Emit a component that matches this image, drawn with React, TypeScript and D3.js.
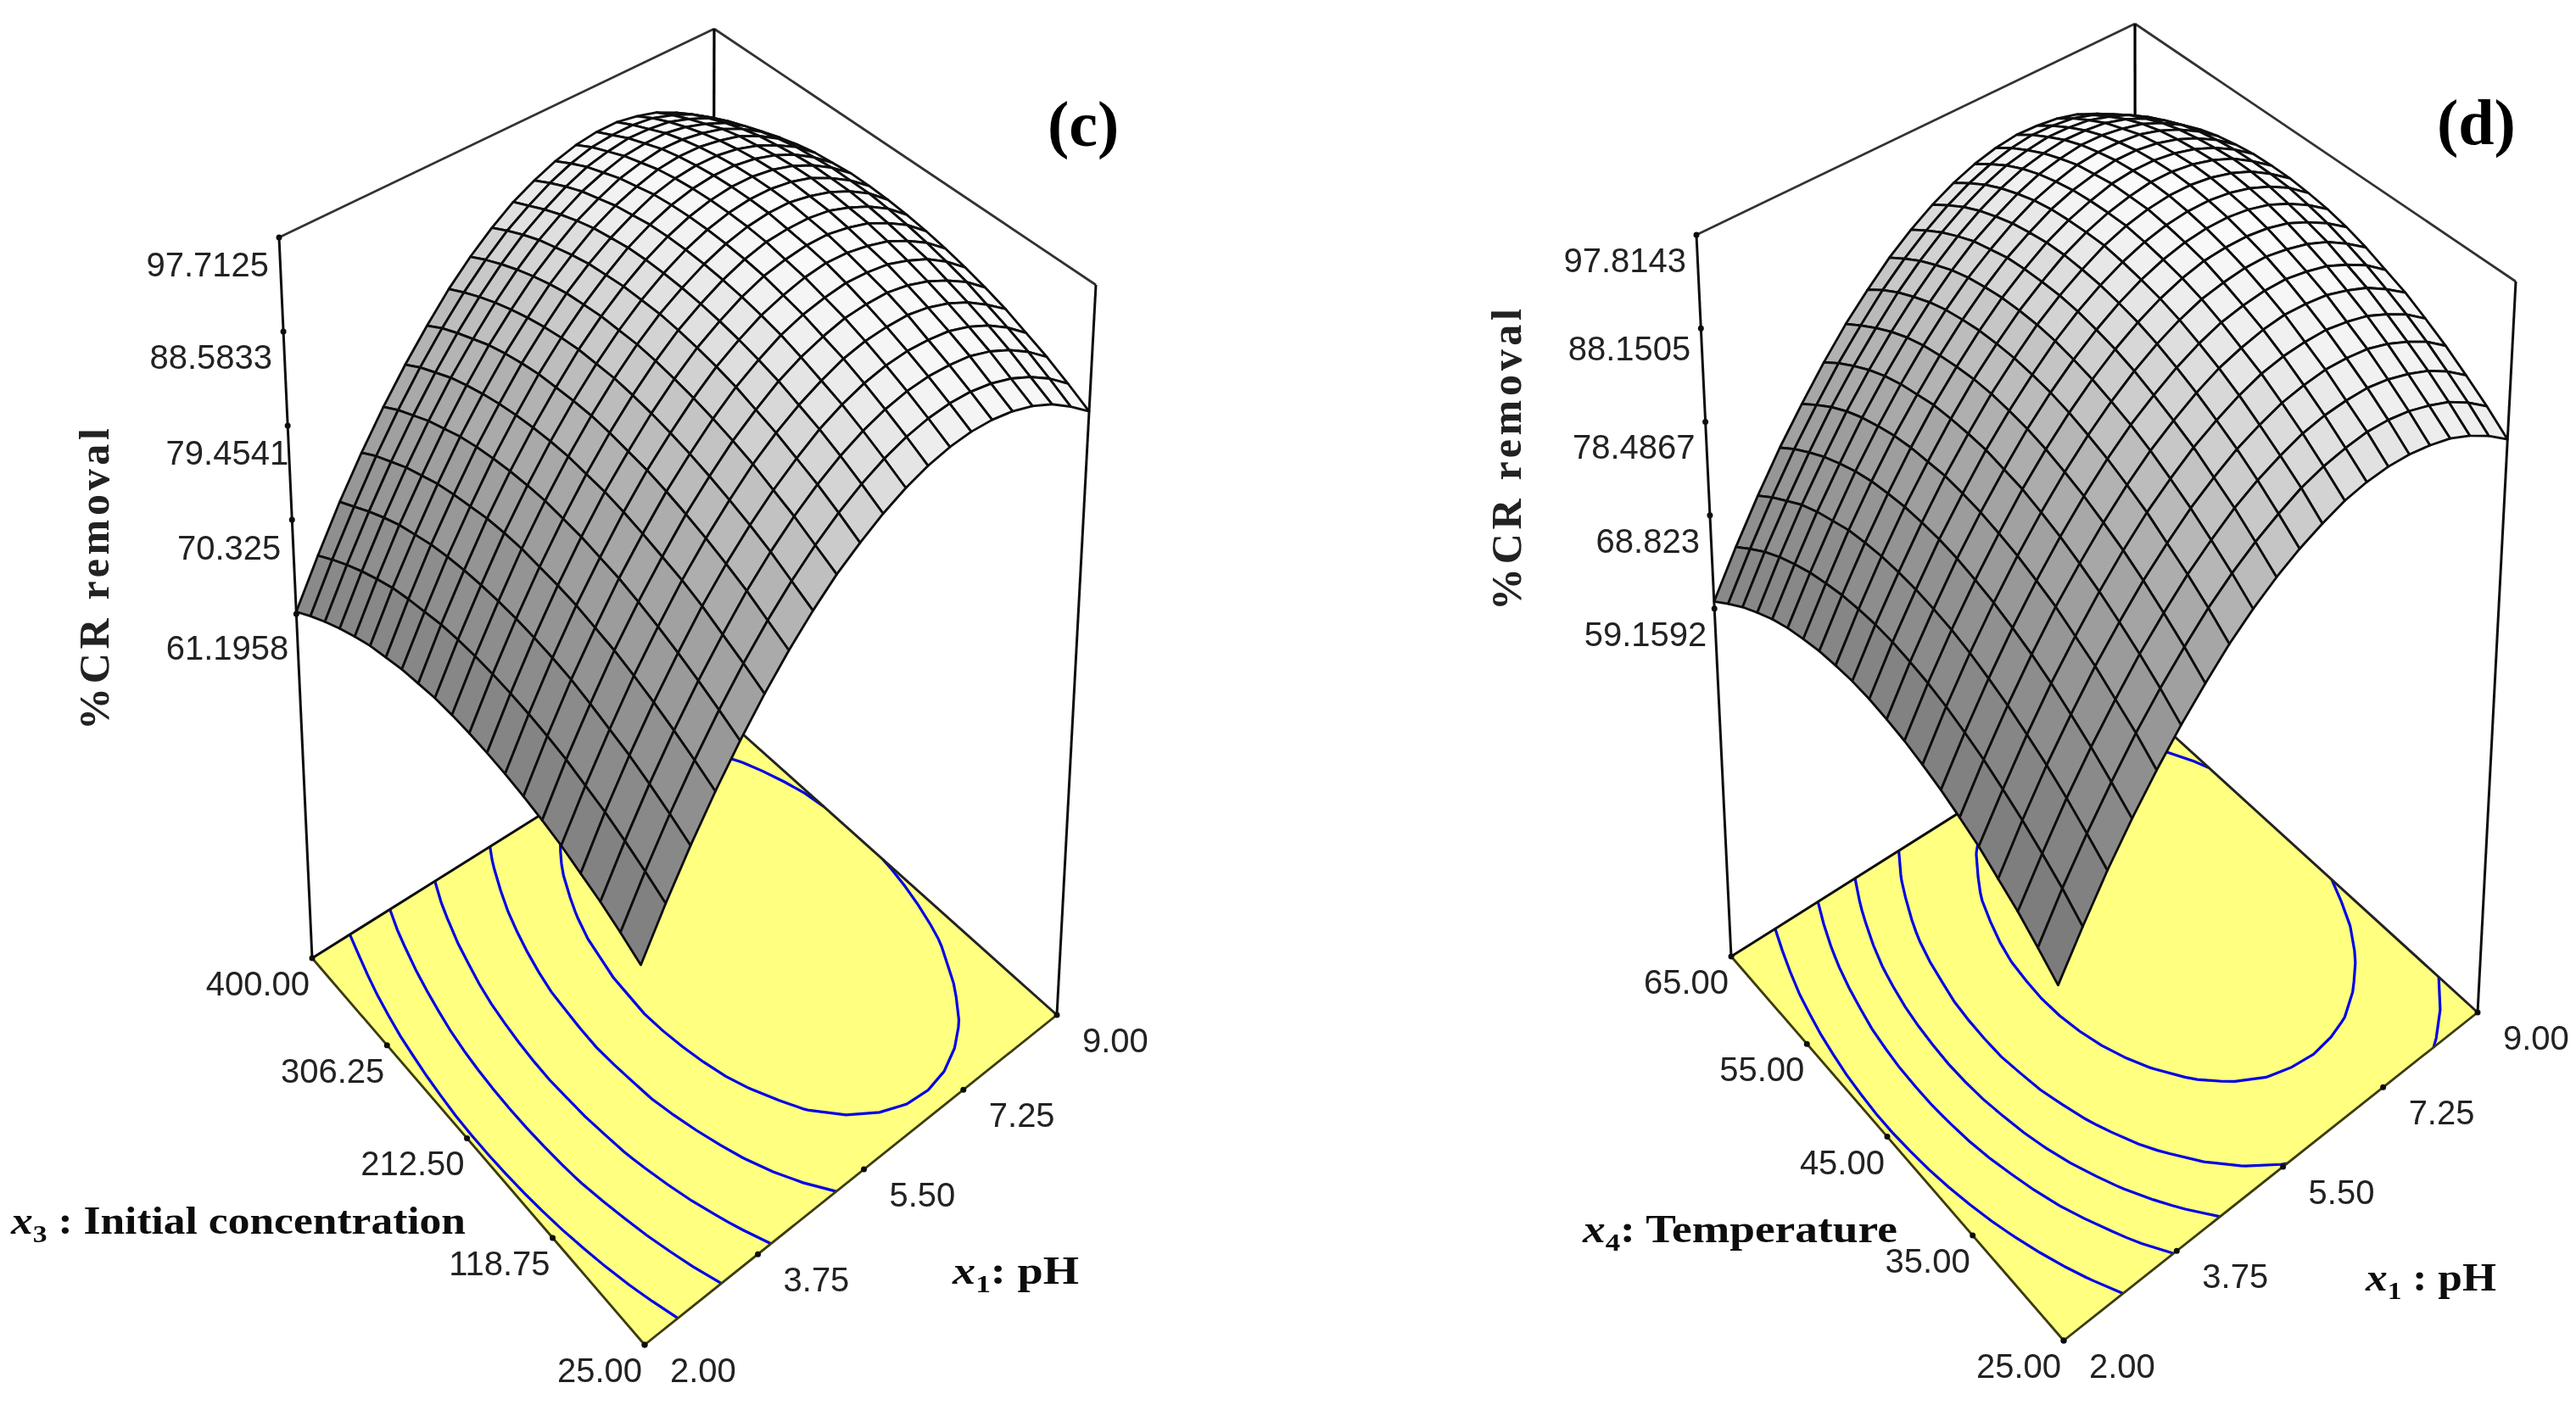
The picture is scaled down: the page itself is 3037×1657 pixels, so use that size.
import React, { useEffect, useRef } from 'react';
import * as d3 from 'd3';

type Pt = [number, number];

const phTicks = ['2.00', '3.75', '5.50', '7.25', '9.00'];
const concTicks = ['25.00', '118.75', '212.50', '306.25', '400.00'];
const tempTicks = ['25.00', '35.00', '45.00', '55.00', '65.00'];
const zTicksC = ['61.1958', '70.325', '79.4541', '88.5833', '97.7125'];
const zTicksD = ['59.1592', '68.823', '78.4867', '88.1505', '97.8143'];

// %CR removal, rows run along the x3 / x4 axis, columns along pH (2 to 9)
const surfaceC = [
  [62.8, 66.8, 70.5, 73.9, 77.0, 79.8, 82.3, 84.5, 86.4, 87.9, 89.2, 90.2, 90.9, 91.3, 91.4, 91.2, 90.7, 89.9, 88.8, 87.3, 85.6],
  [63.8, 67.8, 71.5, 74.9, 78.0, 80.8, 83.3, 85.5, 87.4, 89.0, 90.3, 91.3, 92.0, 92.4, 92.5, 92.3, 91.8, 91.0, 89.9, 88.5, 86.8],
  [64.7, 68.7, 72.4, 75.8, 78.9, 81.7, 84.3, 86.5, 88.4, 90.0, 91.3, 92.3, 93.0, 93.4, 93.5, 93.3, 92.9, 92.1, 91.0, 89.6, 87.9],
  [65.4, 69.5, 73.2, 76.6, 79.7, 82.6, 85.1, 87.3, 89.2, 90.8, 92.2, 93.2, 93.9, 94.3, 94.4, 94.2, 93.8, 93.0, 91.9, 90.5, 88.8],
  [66.1, 70.1, 73.8, 77.3, 80.4, 83.3, 85.8, 88.0, 90.0, 91.6, 92.9, 93.9, 94.7, 95.1, 95.2, 95.1, 94.6, 93.8, 92.7, 91.3, 89.7],
  [66.6, 70.7, 74.4, 77.9, 81.0, 83.8, 86.4, 88.6, 90.6, 92.2, 93.6, 94.6, 95.3, 95.8, 95.9, 95.8, 95.3, 94.5, 93.4, 92.1, 90.4],
  [67.0, 71.1, 74.9, 78.3, 81.5, 84.3, 86.9, 89.1, 91.1, 92.8, 94.1, 95.2, 95.9, 96.3, 96.5, 96.3, 95.9, 95.1, 94.1, 92.7, 91.0],
  [67.3, 71.4, 75.2, 78.7, 81.8, 84.7, 87.3, 89.5, 91.5, 93.2, 94.5, 95.6, 96.3, 96.8, 97.0, 96.8, 96.3, 95.6, 94.5, 93.2, 91.5],
  [67.5, 71.6, 75.4, 78.9, 82.1, 85.0, 87.5, 89.8, 91.8, 93.5, 94.8, 95.9, 96.7, 97.1, 97.3, 97.2, 96.7, 96.0, 94.9, 93.6, 91.9],
  [67.6, 71.7, 75.5, 79.0, 82.2, 85.1, 87.7, 90.0, 92.0, 93.7, 95.0, 96.1, 96.9, 97.4, 97.5, 97.4, 97.0, 96.2, 95.2, 93.9, 92.2],
  [67.6, 71.7, 75.5, 79.1, 82.3, 85.2, 87.8, 90.1, 92.1, 93.8, 95.1, 96.2, 97.0, 97.5, 97.7, 97.6, 97.1, 96.4, 95.4, 94.1, 92.4],
  [67.5, 71.6, 75.4, 79.0, 82.2, 85.1, 87.7, 90.0, 92.0, 93.7, 95.1, 96.2, 97.0, 97.5, 97.7, 97.6, 97.2, 96.5, 95.4, 94.1, 92.5],
  [67.2, 71.4, 75.2, 78.8, 82.0, 84.9, 87.5, 89.9, 91.9, 93.6, 95.0, 96.1, 96.9, 97.4, 97.6, 97.5, 97.1, 96.4, 95.4, 94.1, 92.5],
  [66.9, 71.0, 74.9, 78.4, 81.7, 84.6, 87.3, 89.6, 91.6, 93.3, 94.8, 95.9, 96.7, 97.2, 97.4, 97.3, 96.9, 96.2, 95.2, 93.9, 92.3],
  [66.4, 70.6, 74.5, 78.0, 81.3, 84.2, 86.9, 89.2, 91.3, 93.0, 94.4, 95.5, 96.4, 96.9, 97.1, 97.0, 96.6, 95.9, 94.9, 93.7, 92.1],
  [65.9, 70.1, 73.9, 77.5, 80.8, 83.7, 86.4, 88.7, 90.8, 92.5, 94.0, 95.1, 95.9, 96.5, 96.7, 96.6, 96.2, 95.6, 94.6, 93.3, 91.7],
  [65.2, 69.4, 73.3, 76.8, 80.1, 83.1, 85.8, 88.1, 90.2, 91.9, 93.4, 94.5, 95.4, 95.9, 96.2, 96.1, 95.7, 95.1, 94.1, 92.8, 91.2],
  [64.4, 68.6, 72.5, 76.1, 79.4, 82.4, 85.0, 87.4, 89.5, 91.3, 92.7, 93.9, 94.7, 95.3, 95.5, 95.5, 95.1, 94.4, 93.5, 92.2, 90.6],
  [63.5, 67.7, 71.6, 75.2, 78.5, 81.5, 84.2, 86.6, 88.7, 90.5, 91.9, 93.1, 94.0, 94.5, 94.8, 94.7, 94.4, 93.7, 92.8, 91.5, 89.9],
  [62.5, 66.7, 70.6, 74.3, 77.6, 80.6, 83.3, 85.7, 87.8, 89.6, 91.0, 92.2, 93.1, 93.7, 93.9, 93.9, 93.6, 92.9, 92.0, 90.7, 89.1],
  [61.4, 65.6, 69.6, 73.2, 76.5, 79.5, 82.2, 84.7, 86.8, 88.6, 90.1, 91.2, 92.1, 92.7, 93.0, 93.0, 92.6, 92.0, 91.0, 89.8, 88.2],
];

const surfaceD = [
  [58.3, 62.3, 66.1, 69.5, 72.6, 75.4, 77.9, 80.2, 82.1, 83.7, 85.0, 86.0, 86.8, 87.2, 87.3, 87.1, 86.6, 85.9, 84.8, 83.4, 81.7],
  [59.9, 64.0, 67.7, 71.1, 74.3, 77.1, 79.6, 81.9, 83.8, 85.4, 86.7, 87.8, 88.5, 88.9, 89.1, 88.9, 88.4, 87.6, 86.6, 85.2, 83.5],
  [61.4, 65.4, 69.2, 72.6, 75.7, 78.6, 81.1, 83.4, 85.3, 87.0, 88.3, 89.3, 90.1, 90.5, 90.6, 90.5, 90.0, 89.2, 88.2, 86.8, 85.1],
  [62.6, 66.7, 70.5, 73.9, 77.1, 79.9, 82.5, 84.7, 86.7, 88.3, 89.7, 90.7, 91.5, 91.9, 92.1, 91.9, 91.5, 90.7, 89.6, 88.3, 86.6],
  [63.8, 67.8, 71.6, 75.1, 78.2, 81.1, 83.7, 86.0, 87.9, 89.6, 90.9, 92.0, 92.8, 93.2, 93.3, 93.2, 92.7, 92.0, 90.9, 89.6, 87.9],
  [64.7, 68.8, 72.6, 76.1, 79.3, 82.1, 84.7, 87.0, 89.0, 90.6, 92.0, 93.1, 93.8, 94.3, 94.5, 94.3, 93.9, 93.1, 92.1, 90.7, 89.1],
  [65.5, 69.6, 73.4, 76.9, 80.1, 83.0, 85.6, 87.9, 89.9, 91.5, 92.9, 94.0, 94.8, 95.2, 95.4, 95.3, 94.8, 94.1, 93.0, 91.7, 90.0],
  [66.1, 70.3, 74.1, 77.6, 80.8, 83.7, 86.3, 88.6, 90.6, 92.3, 93.7, 94.8, 95.6, 96.0, 96.2, 96.1, 95.6, 94.9, 93.9, 92.5, 90.9],
  [66.6, 70.8, 74.6, 78.1, 81.3, 84.3, 86.9, 89.2, 91.2, 92.9, 94.3, 95.4, 96.2, 96.7, 96.8, 96.7, 96.3, 95.6, 94.5, 93.2, 91.6],
  [66.9, 71.1, 74.9, 78.5, 81.7, 84.6, 87.3, 89.6, 91.6, 93.3, 94.7, 95.8, 96.6, 97.1, 97.3, 97.2, 96.8, 96.1, 95.0, 93.7, 92.1],
  [67.1, 71.3, 75.1, 78.7, 81.9, 84.9, 87.5, 89.8, 91.9, 93.6, 95.0, 96.1, 96.9, 97.4, 97.6, 97.5, 97.1, 96.4, 95.4, 94.1, 92.4],
  [67.1, 71.3, 75.1, 78.7, 82.0, 84.9, 87.6, 89.9, 92.0, 93.7, 95.1, 96.3, 97.1, 97.6, 97.8, 97.7, 97.3, 96.6, 95.6, 94.2, 92.6],
  [66.9, 71.1, 75.0, 78.6, 81.8, 84.8, 87.5, 89.8, 91.9, 93.6, 95.1, 96.2, 97.0, 97.5, 97.8, 97.7, 97.3, 96.6, 95.6, 94.2, 92.6],
  [66.6, 70.8, 74.7, 78.3, 81.6, 84.6, 87.2, 89.6, 91.7, 93.4, 94.9, 96.0, 96.8, 97.4, 97.6, 97.5, 97.1, 96.4, 95.4, 94.1, 92.5],
  [66.1, 70.3, 74.3, 77.9, 81.2, 84.1, 86.8, 89.2, 91.3, 93.1, 94.5, 95.7, 96.5, 97.0, 97.3, 97.2, 96.8, 96.1, 95.1, 93.8, 92.2],
  [65.5, 69.7, 73.6, 77.3, 80.6, 83.6, 86.3, 88.7, 90.8, 92.5, 94.0, 95.2, 96.0, 96.6, 96.8, 96.7, 96.4, 95.7, 94.7, 93.4, 91.8],
  [64.7, 68.9, 72.9, 76.5, 79.9, 82.9, 85.6, 88.0, 90.1, 91.9, 93.3, 94.5, 95.4, 95.9, 96.2, 96.1, 95.7, 95.1, 94.1, 92.8, 91.2],
  [63.7, 68.0, 72.0, 75.6, 79.0, 82.0, 84.7, 87.1, 89.2, 91.0, 92.5, 93.7, 94.6, 95.1, 95.4, 95.3, 95.0, 94.3, 93.3, 92.0, 90.4],
  [62.6, 66.9, 70.8, 74.5, 77.9, 80.9, 83.6, 86.1, 88.2, 90.0, 91.5, 92.7, 93.6, 94.1, 94.4, 94.3, 94.0, 93.3, 92.4, 91.1, 89.5],
  [61.3, 65.6, 69.6, 73.3, 76.6, 79.7, 82.4, 84.9, 87.0, 88.8, 90.3, 91.5, 92.4, 93.0, 93.3, 93.2, 92.9, 92.2, 91.2, 90.0, 88.4],
  [59.9, 64.2, 68.2, 71.9, 75.2, 78.3, 81.1, 83.5, 85.7, 87.5, 89.0, 90.2, 91.1, 91.7, 92.0, 91.9, 91.6, 91.0, 90.0, 88.7, 87.1],
];

const levelsC = [68.4, 75, 81.3, 87.4, 92.3];
const levelsD = [68.1, 75, 80.2, 85.2, 91.6];

// square -> quad projective map, used for the floor and the lid of the box
function quad(p0: Pt, p1: Pt, p2: Pt, p3: Pt) {
  const dx1 = p1[0] - p2[0], dx2 = p3[0] - p2[0], sx = p0[0] - p1[0] + p2[0] - p3[0];
  const dy1 = p1[1] - p2[1], dy2 = p3[1] - p2[1], sy = p0[1] - p1[1] + p2[1] - p3[1];
  const den = dx1 * dy2 - dx2 * dy1;
  const g = (sx * dy2 - dx2 * sy) / den, h = (dx1 * sy - sx * dy1) / den;
  const a = p1[0] - p0[0] + g * p1[0], b = p3[0] - p0[0] + h * p3[0];
  const d = p1[1] - p0[1] + g * p1[1], e = p3[1] - p0[1] + h * p3[1];
  return (u: number, v: number): Pt => {
    const w = g * u + h * v + 1;
    return [(a * u + b * v + p0[0]) / w, (d * u + e * v + p0[1]) / w];
  };
}

interface PanelCfg {
  base: Pt[]; top: Pt[]; zBase: number; zTop: number;
  zTicks: string[]; vTicks: string[]; surface: number[][]; levels: number[];
  minRun: number;
  zDx: number[]; zDy: number[];
  title: string; titleX: number; titleY: number;
  zLabelX: number; zLabelY: number;
  vLabel: string; vSub: string; vX: number; vY: number; vLen: number;
  uX: number; uY: number; uLen: number; uLabel: string;
}

const panels: PanelCfg[] = [
  {
    base: [[760, 1586], [1246, 1197], [840, 834], [368, 1130]],
    top: [[751, 691], [1292, 336], [842, 34], [329, 280]],
    zBase: 27.8, zTop: 97.7125, zTicks: zTicksC, vTicks: concTicks, surface: surfaceC, levels: levelsC,
    minRun: 8,
    zDx: [-9, -13, 1, -13, -12], zDy: [54, 47, 46, 44, 46],
    title: '(c)', titleX: 1235, titleY: 172, zLabelX: 128, zLabelY: 861,
    vLabel: ' : Initial concentration', vSub: '3', vX: 13, vY: 1455, vLen: 536,
    uLabel: ': pH', uX: 1123, uY: 1514, uLen: 149,
  },
  {
    base: [[2433, 1581], [2921, 1194], [2518, 827], [2041, 1128]],
    top: [[2419, 690], [2966, 332], [2517, 28], [2000, 277]],
    zBase: 23.2, zTop: 97.8143, zTicks: zTicksD, vTicks: tempTicks, surface: surfaceD, levels: levelsD,
    minRun: 2,
    zDx: [-9, -12, -12, -12, -12], zDy: [44, 44, 44, 38, 44],
    title: '(d)', titleX: 2873, titleY: 170, zLabelX: 1793, zLabelY: 720,
    vLabel: ': Temperature', vSub: '4', vX: 1866, vY: 1465, vLen: 371,
    uLabel: ' : pH', uX: 2789, uY: 1522, uLen: 154,
  },
];

// grey from a fixed light, input is the lambert term of a cell
const shade = d3.scaleLinear<number>()
  .domain([0.17, 0.41, 0.57, 0.8, 0.9, 1])
  .range([124, 172, 202, 238, 246, 252])
  .clamp(true);

function drawPanel(svg: d3.Selection<SVGSVGElement, unknown, null, undefined>, p: PanelCfg) {
  const g = svg.append('g').attr('filter', 'url(#soft)');
  const baseAt = quad(p.base[0], p.base[1], p.base[2], p.base[3]);
  const topAt = quad(p.top[0], p.top[1], p.top[2], p.top[3]);
  const zFrac = d3.scaleLinear().domain([p.zBase, p.zTop]).range([0, 1]);
  const at = (u: number, v: number, z: number): Pt => {
    const a = baseAt(u, v), b = topAt(u, v), t = zFrac(z);
    return [a[0] + (b[0] - a[0]) * t, a[1] + (b[1] - a[1]) * t];
  };
  const line = d3.line<Pt>();

  // box
  const wall = (a: Pt, b: Pt, col: string, w: number) =>
    g.append('line').attr('x1', a[0]).attr('y1', a[1]).attr('x2', b[0]).attr('y2', b[1])
      .attr('stroke', col).attr('stroke-width', w);
  wall(p.top[3], p.top[2], '#333', 2.8);
  wall(p.top[2], p.top[1], '#333', 2.8);
  wall(p.top[3], p.base[3], '#111', 3);
  wall(p.top[1], p.base[1], '#111', 3);
  wall(p.top[2], p.base[2], '#000', 3.2);

  // floor
  g.append('path').attr('d', line(p.base)! + 'Z').attr('fill', '#ffff80');

  // contours on the floor
  const n = p.surface.length;
  const flat = p.surface.flat();
  const gen = d3.contours().size([n, n]).thresholds(p.levels);
  gen(flat).forEach(c => {
    c.coordinates.forEach(poly => poly.forEach(ring => {
      const pts = ring.map(q => [
        Math.min(1, Math.max(0, (q[0] - 0.5) / (n - 1))),
        Math.min(1, Math.max(0, (q[1] - 0.5) / (n - 1))),
      ] as Pt);
      let run: Pt[] = [];
      const flush = () => {
        if (run.length >= p.minRun) g.append('path').attr('d', line(run.map(q => baseAt(q[0], q[1])))!)
          .attr('fill', 'none').attr('stroke', '#0000e6').attr('stroke-width', 3.2);
        run = [];
      };
      pts.forEach((q, i) => {
        const prev = pts[i - 1];
        const onEdge = prev && ((q[0] === prev[0] && (q[0] === 0 || q[0] === 1)) || (q[1] === prev[1] && (q[1] === 0 || q[1] === 1)));
        if (onEdge) flush();
        run.push(q);
      });
      flush();
    }));
  });

  wall(p.base[3], p.base[2], '#111', 3);
  wall(p.base[1], p.base[2], '#222', 3);
  wall(p.base[3], p.base[0], '#3a3a10', 2.8);
  wall(p.base[0], p.base[1], '#3a3a10', 2.8);

  // surface, back to front
  const cells: { i: number; j: number }[] = [];
  for (let j = 0; j < n - 1; j++) for (let i = 0; i < n - 1; i++) cells.push({ i, j });
  cells.sort((a, b) => (b.i + b.j) - (a.i + a.j));
  const d = n - 1;
  const z = p.surface;
  const cellGrey = (c: { i: number; j: number }) => {
    const su = ((z[c.j][c.i + 1] + z[c.j + 1][c.i + 1]) - (z[c.j][c.i] + z[c.j + 1][c.i])) / 2 * d * 0.02;
    const sv = ((z[c.j + 1][c.i] + z[c.j + 1][c.i + 1]) - (z[c.j][c.i] + z[c.j][c.i + 1])) / 2 * d * 0.02;
    const lit = (1 - 0.35 * su - 0.15 * sv) / Math.sqrt(1 + su * su + sv * sv);
    const v = Math.round(shade(lit));
    return d3.rgb(v, v, v).formatHex();
  };
  g.append('g').selectAll('path').data(cells).enter().append('path')
    .attr('d', c => line([
      at(c.i / d, c.j / d, z[c.j][c.i]),
      at((c.i + 1) / d, c.j / d, z[c.j][c.i + 1]),
      at((c.i + 1) / d, (c.j + 1) / d, z[c.j + 1][c.i + 1]),
      at(c.i / d, (c.j + 1) / d, z[c.j + 1][c.i]),
    ])! + 'Z')
    .attr('fill', cellGrey)
    .attr('stroke', '#0c0c0c').attr('stroke-width', 2.8).attr('stroke-linejoin', 'round');

  // axis ticks and labels
  const tickFont = '"Liberation Sans", Arial, sans-serif';
  const tick = (x: number, y: number) => g.append('circle').attr('cx', x).attr('cy', y).attr('r', 3.5).attr('fill', '#111');
  const txt = (x: number, y: number, s: string, anchor: string) =>
    g.append('text').attr('x', x).attr('y', y).attr('text-anchor', anchor).attr('font-family', tickFont)
      .attr('font-size', 40).attr('fill', '#222').text(s);
  phTicks.forEach((s, i) => {
    const q = baseAt(i / 4, 0); tick(q[0], q[1]);
    txt(q[0] + 30, q[1] + 44, s, 'start');
  });
  p.vTicks.forEach((s, i) => {
    const q = baseAt(0, i / 4); tick(q[0], q[1]);
    txt(q[0] - 3, q[1] + 44, s, 'end');
  });
  const zScale = d3.scaleLinear().domain([0, p.zTicks.length - 1]).range([+p.zTicks[0], +p.zTicks[p.zTicks.length - 1]]);
  p.zTicks.forEach((s, i) => {
    const q = at(0, 1, zScale(i)); tick(q[0], q[1]);
    txt(q[0] + p.zDx[i], q[1] + p.zDy[i], s, 'end');
  });

  // titles
  const serif = '"Liberation Serif", "Times New Roman", serif';
  g.append('text').attr('x', p.titleX).attr('y', p.titleY).attr('font-family', serif).attr('font-weight', 'bold')
    .attr('font-size', 76).attr('fill', '#000').text(p.title);
  g.append('text').attr('transform', `translate(${p.zLabelX},${p.zLabelY}) rotate(-90)`)
    .attr('font-family', serif).attr('font-weight', 'bold').attr('font-size', 50).attr('fill', '#222')
    .attr('textLength', 356).text('%CR removal');

  const axisLabel = (x: number, y: number, sub: string, rest: string, len: number) => {
    const t = g.append('text').attr('x', x).attr('y', y).attr('font-family', serif).attr('font-weight', 'bold')
      .attr('font-size', 46).attr('fill', '#111').attr('textLength', len).attr('lengthAdjust', 'spacingAndGlyphs');
    t.append('tspan').attr('font-style', 'italic').text('x');
    t.append('tspan').attr('font-size', 30).attr('dy', 10).text(sub);
    t.append('tspan').attr('dy', -10).text(rest);
  };
  axisLabel(p.vX, p.vY, p.vSub, p.vLabel, p.vLen);
  axisLabel(p.uX, p.uY, '1', p.uLabel, p.uLen);
}

export default function App() {
  const ref = useRef<SVGSVGElement>(null);
  useEffect(() => {
    if (!ref.current) return;
    const svg = d3.select(ref.current);
    svg.selectAll('*').remove();
    // the source is a low resolution scan, keep its slight softness
    svg.append('defs').append('filter').attr('id', 'soft')
      .attr('filterUnits', 'userSpaceOnUse').attr('x', 0).attr('y', 0).attr('width', 3037).attr('height', 1657)
      .append('feGaussianBlur').attr('stdDeviation', 0.6);
    panels.forEach(p => drawPanel(svg as any, p));
  }, []);
  return <svg ref={ref} width={3037} height={1657} style={{ position: 'absolute', left: 0, top: 0, background: '#fff' }} />;
}
